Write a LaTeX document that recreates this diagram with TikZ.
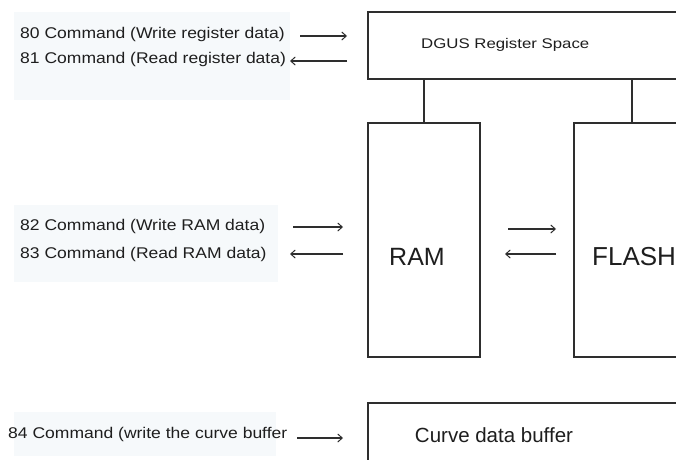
\documentclass[tikz,border=0pt]{standalone}
\usepackage{fontspec}
\setmainfont{Liberation Sans}
\usetikzlibrary{arrows.meta}
\definecolor{ink}{HTML}{1E1E1E}
\definecolor{edge}{HTML}{2E2E2E}
\definecolor{pale}{HTML}{F6F9FB}
\newcommand{\wide}[1]{\scalebox{1.2}[1]{#1}}
\newcommand{\widish}[1]{\scalebox{1.13}[1]{#1}}
\begin{document}
\begin{tikzpicture}[x=1pt,y=-1pt,
  box/.style={draw=edge,line width=1.2pt,fill=white,inner sep=0pt},
  lbl/.style={anchor=west,text=ink,font=\fontsize{15.5}{18}\selectfont,inner sep=0pt},
  big/.style={text=ink,inner sep=0pt},
  arr/.style={draw=edge,line width=1.1pt,-{Straight Barb[length=4.5pt,width=8pt,line width=1pt]}},
  link/.style={draw=edge,line width=1.2pt}]
\useasboundingbox (0,0) rectangle (676,459);
\clip (0,0) rectangle (676,459);
\fill[white] (0,0) rectangle (676,459);
% faint backgrounds
\fill[pale] (14,12) rectangle (290,100);
\fill[pale] (14,205) rectangle (278,282);
\fill[pale] (14,412) rectangle (276,456);
% boxes
\node[box,minimum width=322pt,minimum height=67pt] (dgus) at (529,45.5) {};
\node[box,minimum width=112pt,minimum height=234pt] (ram) at (424,240) {};
\node[box,minimum width=116pt,minimum height=234pt] (flash) at (632,240) {};
\node[box,minimum width=322pt,minimum height=67pt] (curve) at (529,436.5) {};
% box texts
\node[big,anchor=west,font=\fontsize{14}{16}\selectfont] (tdgus) at (421,45) {\wide{DGUS Register Space}};
\node[big,font=\fontsize{25}{28}\selectfont] (tram) at (417,257) {RAM};
\node[big,anchor=west,font=\fontsize{26}{29}\selectfont] (tflash) at (592,257) {FLASH};
\node[big,font=\fontsize{20.5}{24}\selectfont] (tcurve) at (494,435) {Curve data buffer};
% links
\draw[link] (ram.north) -- (ram.north |- dgus.south);
\draw[link] (flash.north) -- (flash.north |- dgus.south);
% labels
\node[lbl] (l80) at (20,34) {\widish{80 Command (Write register data)}};
\node[lbl] (l81) at (20,59) {\widish{81 Command (Read register data)}};
\node[lbl] (l82) at (20,226) {\widish{82 Command (Write RAM data)}};
\node[lbl] (l83) at (20,254) {\widish{83 Command (Read RAM data)}};
\node[lbl] (l84) at (8,434) {\widish{84 Command (write the curve buffer}};
% arrow end points
\coordinate (a80s) at (300,36); \coordinate (a80e) at (347,36);
\coordinate (a81s) at (347,61); \coordinate (a81e) at (290,61);
\coordinate (a82s) at (293,227); \coordinate (a82e) at (343,227);
\coordinate (a83s) at (343,254); \coordinate (a83e) at (290,254);
\coordinate (arfs) at (508,229); \coordinate (arfe) at (556,229);
\coordinate (afrs) at (556,254); \coordinate (afre) at (505,254);
\coordinate (a84s) at (297,438); \coordinate (a84e) at (343,438);
\draw[arr] (a80s) -- (a80e);
\draw[arr] (a81s) -- (a81e);
\draw[arr] (a82s) -- (a82e);
\draw[arr] (a83s) -- (a83e);
\draw[arr] (arfs) -- (arfe);
\draw[arr] (afrs) -- (afre);
\draw[arr] (a84s) -- (a84e);
\end{tikzpicture}
\end{document}
